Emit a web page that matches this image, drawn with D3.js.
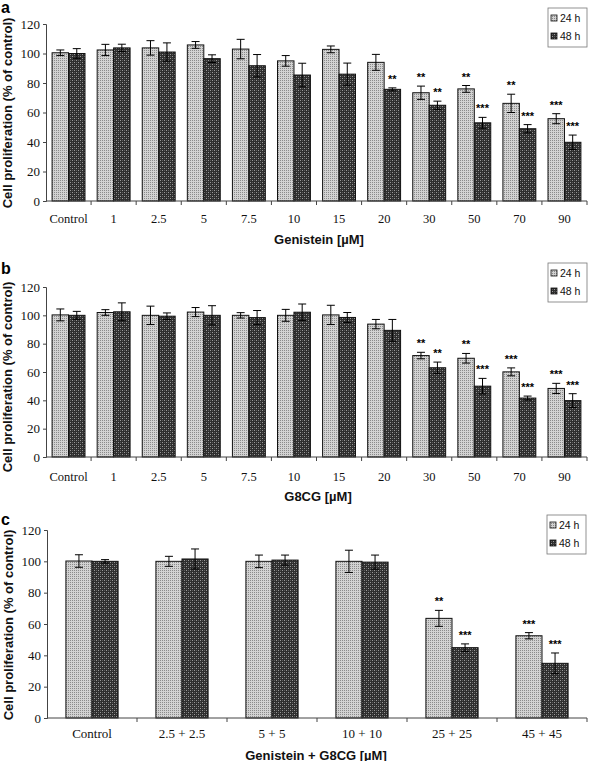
<!DOCTYPE html>
<html><head><meta charset="utf-8">
<script src="https://cdn.jsdelivr.net/npm/d3@7"></script>
<style>body{margin:0;background:#fff}</style>
</head><body>
<svg id="chart" width="598" height="761"></svg>
<script>
// ---------- data ----------
const seriesNames = ["24 h", "48 h"];
const yTicks = [0, 20, 40, 60, 80, 100, 120];

const catsA = ["Control","1","2.5","5","7.5","10","15","20","30","50","70","90"];
const a24    = [100.5,102.4,103.8,105.8,103,95,102.8,94,73.4,76,66.2,55.8];
const a24err = [1.9,3.8,4.9,2.3,6.6,3.6,2.3,5.4,4.5,2.3,6.2,3.4];
const a48    = [100,103.8,101,96.5,91.7,85.4,86,75.7,64.9,53,49,39.8];
const a48err = [3.3,2.5,6.2,2.6,7.6,8,7.5,1,2.8,3.7,2.8,4.9];
const aSig24 = ["","","","","","","","","**","**","**","***"];
const aSig48 = ["","","","","","","","**","**","***","***","***"];

const catsB = ["Control","1","2.5","5","7.5","10","15","20","30","50","70","90"];
const b24    = [100.3,102,100,102.3,100,100,100.3,93.8,71.6,69.7,60.1,48.4];
const b24err = [4.2,2,6.5,3.2,1.9,4.2,6.8,3.3,2.3,3.4,2.8,3.6];
const b48    = [100,102.5,99.4,100,98.4,102.2,98.5,89.4,63,50,41.6,39.8];
const b48err = [2.8,6.3,2.3,6.8,5,5.8,3.5,7.7,4,5.5,1.4,4.9];
const bSig24 = ["","","","","","","","","**","**","***","***"];
const bSig48 = ["","","","","","","","","**","***","***","***"];

const catsC = ["Control","2.5 + 2.5","5 + 5","10 + 10","25 + 25","45 + 45"];
const c24    = [100.2,100,100,100,63.6,52.5];
const c24err = [4,3.2,4,7.1,5.1,2];
const c48    = [100,101.5,100.8,99.5,44.9,34.9];
const c48err = [1.1,6.4,3.2,4.5,2.4,6.6];
const cSig24 = ["","","","","**","***"];
const cSig48 = ["","","","","***","***"];

const yTitle = "Cell proliferation (% of control)";

// ---------- drawing ----------
const SERIF = "'Liberation Serif','Times New Roman',serif";
const SANS = "'Liberation Sans',Arial,sans-serif";
const svg = d3.select("#chart");
const defs = svg.append("defs");

const p1 = defs.append("pattern").attr("id","pat24").attr("patternUnits","userSpaceOnUse")
  .attr("width",2).attr("height",2);
p1.append("rect").attr("width",2).attr("height",2).attr("fill","#d2d2d2");
p1.append("rect").attr("width",1).attr("height",1).attr("fill","#8a8a8a");

const p2 = defs.append("pattern").attr("id","pat48").attr("patternUnits","userSpaceOnUse")
  .attr("width",4).attr("height",4);
p2.append("rect").attr("width",4).attr("height",4).attr("fill","#2e2e2e");
p2.append("rect").attr("x",0).attr("y",0).attr("width",1).attr("height",1).attr("fill","#9a9a9a");
p2.append("rect").attr("x",2).attr("y",2).attr("width",1).attr("height",1).attr("fill","#9a9a9a");
p2.append("rect").attr("x",2).attr("y",0).attr("width",1).attr("height",1).attr("fill","#5a5a5a");
p2.append("rect").attr("x",0).attr("y",2).attr("width",1).attr("height",1).attr("fill","#5a5a5a");

const fills = ["url(#pat24)", "url(#pat48)"];

function panel(cfg) {
  const g = svg.append("g");
  const x = d3.scaleBand().domain(cfg.cats).range([cfg.x0, cfg.x1])
    .paddingInner(cfg.pad).paddingOuter(cfg.pad / 2);
  const xs = d3.scaleBand().domain(seriesNames).range([0, x.bandwidth()]);
  const y = d3.scaleLinear().domain([0, 120]).range([cfg.yb, cfg.yt]);

  // bars
  const vals = [cfg.v24, cfg.v48], errs = [cfg.e24, cfg.e48], sigs = [cfg.s24, cfg.s48];
  seriesNames.forEach((s, si) => {
    const data = cfg.cats.map((c, i) => ({c, v: vals[si][i], e: errs[si][i], s: sigs[si][i]}));
    const sg = g.append("g");
    sg.selectAll("rect").data(data).join("rect")
      .attr("x", d => x(d.c) + xs(s))
      .attr("y", d => y(d.v))
      .attr("width", xs.bandwidth())
      .attr("height", d => y(0) - y(d.v))
      .attr("fill", fills[si]).attr("stroke", "#111").attr("stroke-width", 1);
    const cx = d => x(d.c) + xs(s) + xs.bandwidth() / 2;
    const eg = sg.append("g").attr("stroke", "#000").attr("stroke-width", 1);
    eg.selectAll("line.v").data(data).join("line").attr("class","v")
      .attr("x1", cx).attr("x2", cx)
      .attr("y1", d => y(d.v - d.e)).attr("y2", d => y(d.v + d.e));
    eg.selectAll("line.t").data(data).join("line").attr("class","t")
      .attr("x1", d => cx(d) - 4).attr("x2", d => cx(d) + 4)
      .attr("y1", d => y(d.v + d.e)).attr("y2", d => y(d.v + d.e));
    eg.selectAll("line.b").data(data).join("line").attr("class","b")
      .attr("x1", d => cx(d) - 4).attr("x2", d => cx(d) + 4)
      .attr("y1", d => y(d.v - d.e)).attr("y2", d => y(d.v - d.e));
    sg.selectAll("text").data(data.filter(d => d.s)).join("text")
      .attr("x", cx).attr("y", d => y(d.v + d.e) - 5)
      .attr("text-anchor", "middle").attr("font-family", SANS).attr("font-size", 11)
      .attr("font-weight", "bold").attr("fill", "#000").text(d => d.s);
  });

  // y axis
  const ya = g.append("g").attr("transform", `translate(${cfg.x0},0)`)
    .call(d3.axisLeft(y).tickValues(yTicks).tickSize(3).tickPadding(3).tickFormat(d3.format("d")));
  ya.select(".domain").attr("stroke", "#444");
  ya.selectAll(".tick line").attr("stroke", "#444");
  ya.selectAll("text").attr("font-family", SERIF).attr("font-size", 13).attr("fill", "#111");

  // x axis
  const xa = g.append("g").attr("transform", `translate(0,${cfg.yb})`)
    .call(d3.axisBottom(x).tickSize(0).tickPadding(cfg.labPad));
  xa.select(".domain").attr("stroke", "#444").attr("d", `M${cfg.x0},0H${cfg.x1}`);
  xa.selectAll("text").attr("font-family", SERIF).attr("font-size", cfg.labSize).attr("fill", "#111");
  const bounds = cfg.cats.map((c, i) => x(c) - x.step() * x.paddingInner() / 2 + x.step());
  g.append("g").selectAll("line").data(bounds).join("line")
    .attr("x1", d => d).attr("x2", d => d)
    .attr("y1", cfg.yb).attr("y2", cfg.yb + 4).attr("stroke", "#444");

  // titles
  g.append("text").attr("x", cfg.titleX).attr("y", cfg.titleY).attr("text-anchor", "middle")
    .attr("dominant-baseline", "central")
    .attr("font-family", SANS).attr("font-weight", "bold").attr("font-size", 13).attr("fill", "#111")
    .text(cfg.title);
  g.append("text").attr("transform", `translate(${cfg.ytX},${cfg.ytY}) rotate(-90)`)
    .attr("text-anchor", "middle").attr("dominant-baseline", "central")
    .attr("font-family", SANS).attr("font-weight", "bold").attr("font-size", 13).attr("fill", "#111")
    .text(yTitle);
  g.append("text").attr("x", 1).attr("y", cfg.letterY)
    .attr("font-family", SANS).attr("font-weight", "bold").attr("font-size", 16).attr("fill", "#000")
    .text(cfg.letter);

  // legend
  const L = cfg.leg;
  const lg = g.append("g").attr("transform", `translate(${L[0]},${L[1]})`);
  lg.append("rect").attr("width", 39).attr("height", 39).attr("fill", "#fff")
    .attr("stroke", "#777").attr("stroke-width", 0.8);
  seriesNames.forEach((s, si) => {
    lg.append("rect").attr("x", 3).attr("y", 7 + si * 18).attr("width", 6).attr("height", 6)
      .attr("fill", fills[si]).attr("stroke", "#111").attr("stroke-width", 0.8);
    lg.append("text").attr("x", 12).attr("y", 10 + si * 18).attr("dominant-baseline", "central")
      .attr("font-family", SANS).attr("font-size", 10.5).attr("fill", "#111").text(s);
  });
}

panel({letter:"a", letterY:13, cats:catsA, v24:a24, e24:a24err, v48:a48, e48:a48err, s24:aSig24, s48:aSig48,
  x0:46, x1:587, pad:0.27, yt:24, yb:201, labPad:13, labSize:12.5,
  title:"Genistein [µM]", titleX:319, titleY:239, ytX:7, ytY:113, leg:[548,8]});
panel({letter:"b", letterY:274, cats:catsB, v24:b24, e24:b24err, v48:b48, e48:b48err, s24:bSig24, s48:bSig48,
  x0:46, x1:587, pad:0.27, yt:287, yb:457, labPad:15, labSize:12.5,
  title:"G8CG [µM]", titleX:318, titleY:496, ytX:7, ytY:377, leg:[548,263]});
panel({letter:"c", letterY:525, cats:catsC, v24:c24, e24:c24err, v48:c48, e48:c48err, s24:cSig24, s48:cSig48,
  x0:47, x1:587, pad:0.42, yt:530, yb:718, labPad:11, labSize:13,
  title:"Genistein + G8CG [µM]", titleX:316, titleY:755, ytX:8, ytY:625, leg:[547,515]});
</script>
</body></html>
